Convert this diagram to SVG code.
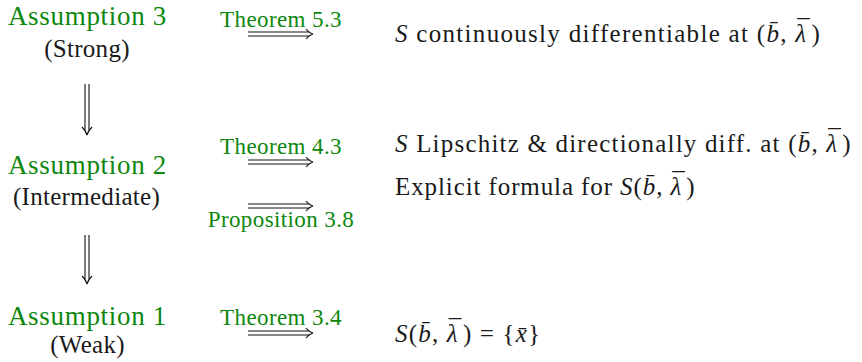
<svg xmlns="http://www.w3.org/2000/svg" width="862" height="362" viewBox="0 0 862 362" font-family="'Liberation Serif', serif">
<style>
.g{fill:#0d870d}
.k{fill:#1a1a1a}
.big{font-size:27px;letter-spacing:0.7px}
.lab{font-size:23px;letter-spacing:0.4px}
.txt{font-size:25px}
.it{font-style:italic}
.arr{fill:none;stroke:#111;stroke-width:1.1}
</style>
<rect width="862" height="362" fill="#fff"/>
<g id="connectors">
  <g id="a3-a2"><path class="arr" d="M85,84V131M89,84V131M82,127Q86,131 87,135Q88,131 92,127"/></g>
  <g id="a2-a1"><path class="arr" d="M85,235V280M89,235V280M82,276Q86,280 87,284Q88,280 92,276"/></g>
  <g id="a3-r1"><path class="arr" d="M248,32H310M248,36H310M306,29Q309,33 313,34Q309,35 306,39"/>
    <text class="g lab" x="281" y="26.5" text-anchor="middle">Theorem 5.3</text></g>
  <g id="a2-r2"><path class="arr" d="M248,160H310M248,164H310M306,157Q309,161 313,162Q309,163 306,167"/>
    <text class="g lab" x="281" y="154" text-anchor="middle">Theorem 4.3</text></g>
  <g id="a2-r3"><path class="arr" d="M248,204H310M248,208H310M306,201Q309,205 313,206Q309,207 306,211"/>
    <text class="g lab" x="281" y="227" text-anchor="middle">Proposition 3.8</text></g>
  <g id="a1-r4"><path class="arr" d="M248,331H310M248,335H310M306,328Q309,332 313,333Q309,334 306,338"/>
    <text class="g lab" x="281" y="325" text-anchor="middle">Theorem 3.4</text></g>
</g>
<g id="assumption3">
  <text class="g big" x="87.5" y="25" text-anchor="middle">Assumption 3</text>
  <text class="k txt" x="87" y="57" text-anchor="middle" letter-spacing="0.3">(Strong)</text>
</g>
<g id="assumption2">
  <text class="g big" x="87.5" y="174" text-anchor="middle">Assumption 2</text>
  <text class="k txt" x="86.5" y="205" text-anchor="middle" letter-spacing="0.3">(Intermediate)</text>
</g>
<g id="assumption1">
  <text class="g big" x="87.5" y="325" text-anchor="middle">Assumption 1</text>
  <text class="k txt" x="87.5" y="353" text-anchor="middle" letter-spacing="0.3">(Weak)</text>
</g>
<g id="result1">
  <text class="k txt" x="395" y="42" letter-spacing="1.3"><tspan class="it">S</tspan> continuously differentiable at (<tspan class="it">b̄</tspan>, <tspan class="it">λ</tspan><tspan dx="-10.3" dy="-5">¯</tspan><tspan dx="0.5" dy="5">)</tspan></text>
</g>
<g id="result2">
  <text class="k txt" x="395" y="152" letter-spacing="1.2"><tspan class="it">S</tspan> Lipschitz &amp; directionally diff. at (<tspan class="it">b̄</tspan>, <tspan class="it">λ</tspan><tspan dx="-10.2" dy="-5">¯</tspan><tspan dx="0.5" dy="5">)</tspan></text>
</g>
<g id="result3">
  <text class="k txt" x="395" y="195" letter-spacing="0.9">Explicit formula for <tspan class="it">S</tspan>(<tspan class="it">b̄</tspan>, <tspan class="it">λ</tspan><tspan dx="-9.9" dy="-5">¯</tspan><tspan dx="0.5" dy="5">)</tspan></text>
</g>
<g id="result4">
  <text class="k txt" x="395" y="342" letter-spacing="1.2"><tspan class="it">S</tspan>(<tspan class="it">b̄</tspan>, <tspan class="it">λ</tspan><tspan dx="-10.2" dy="-5">¯</tspan><tspan dx="0.5" dy="5">)</tspan> = {<tspan class="it">x̄</tspan>}</text>
</g>
</svg>
